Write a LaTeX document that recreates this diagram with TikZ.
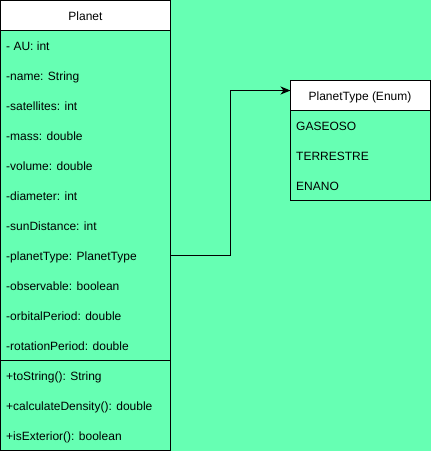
\documentclass[tikz,border=0pt]{standalone}
\usepackage{fontspec}
\setmainfont{Liberation Sans}
\usetikzlibrary{arrows.meta}
\definecolor{bg}{HTML}{66FFB3}
\tikzset{
  box/.style={draw=black, line width=1pt},
  hdr/.style={draw=black, line width=1pt, fill=white},
  lbl/.style={anchor=base west, inner sep=0pt, font=\fontsize{12pt}{14pt}\selectfont},
  title/.style={anchor=base, inner sep=0pt, font=\fontsize{12pt}{14pt}\selectfont},
  conn/.style={draw=black, line width=1pt, -{Stealth[length=10pt,width=8pt,inset=3pt]}}
}
\begin{document}
\begin{tikzpicture}[x=1pt,y=-1pt]
\fill[bg] (0,0) rectangle (431,451);
\useasboundingbox (0,0) rectangle (431,451);
% Planet class
\draw[box] (0.5,0.5) rectangle (170.5,450);
\draw[hdr] (0.5,0.5) rectangle (170.5,30.5);
\node[title] (planetT) at (85.5,20) {Planet};
\draw[box] (0.5,360.5) -- (170.5,360.5);
\node[lbl] (a1) at (6,50) {- AU: int};
\node[lbl] (a2) at (6,80) {-name: String};
\node[lbl] (a3) at (6,110) {-satellites: int};
\node[lbl] (a4) at (6,140) {-mass: double};
\node[lbl] (a5) at (6,170) {-volume: double};
\node[lbl] (a6) at (6,200) {-diameter: int};
\node[lbl] (a7) at (6,230) {-sunDistance: int};
\node[lbl] (a8) at (6,260) {-planetType: PlanetType};
\node[lbl] (a9) at (6,290) {-observable: boolean};
\node[lbl] (a10) at (6,320) {-orbitalPeriod: double};
\node[lbl] (a11) at (6,350) {-rotationPeriod: double};
\node[lbl] (m1) at (6,380) {+toString(): String};
\node[lbl] (m2) at (6,410) {+calculateDensity(): double};
\node[lbl] (m3) at (6,440) {+isExterior(): boolean};
% PlanetType enum
\draw[box] (290.5,80.5) rectangle (430,200.5);
\draw[hdr] (290.5,80.5) rectangle (430,110.5);
\node[title] (enumT) at (360,100) {PlanetType (Enum)};
\node[lbl] (e1) at (296,130) {GASEOSO};
\node[lbl] (e2) at (296,160) {TERRESTRE};
\node[lbl] (e3) at (296,190) {ENANO};
% connector
\coordinate (src) at (170.5,255.5);
\coordinate (dst) at (290.5,90.5);
\draw[conn] (src) -- (230.5,255.5) -- (230.5,90.5) -- (dst);
\end{tikzpicture}
\end{document}
